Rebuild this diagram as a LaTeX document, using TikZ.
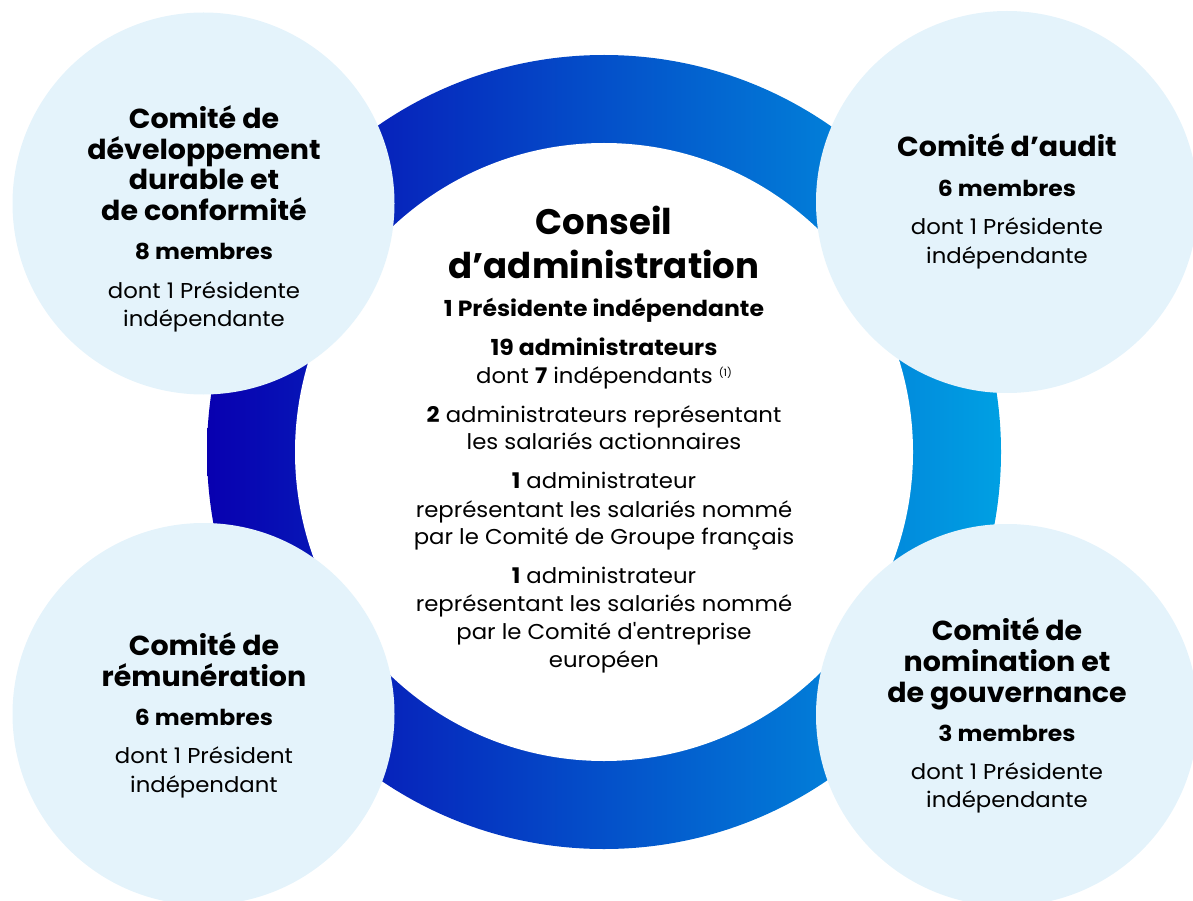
\documentclass[tikz,border=0pt]{standalone}
\usepackage{fontspec}
\setmainfont{Poppins}
\newfontfamily\bodyfam{Poppins}[FakeStretch=1.06]
\newfontfamily\countfam{Poppins}[FakeStretch=1.07]
\newfontfamily\titlefam{Poppins}[FakeStretch=1.035]
\definecolor{ringL}{RGB}{8,0,176}
\definecolor{ringR}{RGB}{0,160,227}
\definecolor{comfill}{RGB}{228,243,251}
\tikzset{
  title/.style={anchor=base, inner sep=0pt, font=\titlefam\fontsize{27.5}{31}\selectfont\bfseries},
  count/.style={anchor=base, inner sep=0pt, font=\countfam\fontsize{22}{25}\selectfont\bfseries},
  body/.style={anchor=base, inner sep=0pt, font=\bodyfam\fontsize{21.5}{25}\selectfont},
  big/.style={anchor=base, inner sep=0pt, font=\fontsize{35.5}{43}\selectfont\bfseries},
  committee/.style={circle, fill=comfill, minimum size=382pt, inner sep=0pt},
  board/.style={circle, fill=white, minimum size=618pt, inner sep=0pt},
}
\begin{document}
\begin{tikzpicture}[x=1pt,y=-1pt]
\path[use as bounding box] (0,0) rectangle (1193,901);
\clip (0,0) rectangle (1193,901);
\coordinate (c) at (604,452);
\shade[left color=ringL, right color=ringR] (c) circle (397pt);
\node[board] (boardbg) at (c) {};
\node[committee] (tl) at (203.5,203.5) {};
\node[committee] (tr) at (1007,202) {};
\node[committee] (bl) at (203.5,714) {};
\node[committee] (br) at (1007,715) {};
% top-left
\node[title] (tl1) at (204,129) {Comité de};
\node[title] (tl2) at (204,160) {développement};
\node[title] (tl3) at (204,190) {durable et};
\node[title] (tl4) at (204,221) {de conformité};
\node[count] (tl5) at (204,259) {8 membres};
\node[body] (tl6) at (204,298) {dont 1 Présidente};
\node[body] (tl7) at (204,326) {indépendante};
% top-right
\node[title] (tr1) at (1007,157) {Comité d’audit};
\node[count] (tr2) at (1007,197) {6 membres};
\node[body] (tr3) at (1007,235) {dont 1 Présidente};
\node[body] (tr4) at (1007,263) {indépendante};
% bottom-left
\node[title] (bl1) at (204,655) {Comité de};
\node[title] (bl2) at (204,686) {rémunération};
\node[count] (bl3) at (204,725) {6 membres};
\node[body] (bl4) at (204,763) {dont 1 Président};
\node[body] (bl5) at (204,792) {indépendant};
% bottom-right
\node[title] (br1) at (1007,640) {Comité de};
\node[title] (br2) at (1007,671) {nomination et};
\node[title] (br3) at (1007,702) {de gouvernance};
\node[count] (br4) at (1007,741) {3 membres};
\node[body] (br5) at (1007,779) {dont 1 Présidente};
\node[body] (br6) at (1007,807) {indépendante};
% centre
\node[big] (b1) at (604,235) {Conseil};
\node[big] (b2) at (604,278) {d’administration};
\node[count] (b3) at (604,316) {1 Présidente indépendante};
\node[count] (b4) at (604,355) {19 administrateurs};
\node[body] (b5) at (604,383) {dont \textbf{7} indépendants~\raisebox{7pt}{\fontsize{10}{10}\selectfont(1)}};
\node[body] (b6) at (604,422) {\textbf{2} administrateurs représentant};
\node[body] (b7) at (604,449) {les salariés actionnaires};
\node[body] (b8) at (604,488) {\textbf{1} administrateur};
\node[body] (b9) at (604,517) {représentant les salariés nommé};
\node[body] (b10) at (604,544) {par le Comité de Groupe français};
\node[body] (b11) at (604,583) {\textbf{1} administrateur};
\node[body] (b12) at (604,611) {représentant les salariés nommé};
\node[body] (b13) at (604,639) {par le Comité d'entreprise};
\node[body] (b14) at (604,667) {européen};
\end{tikzpicture}
\end{document}
